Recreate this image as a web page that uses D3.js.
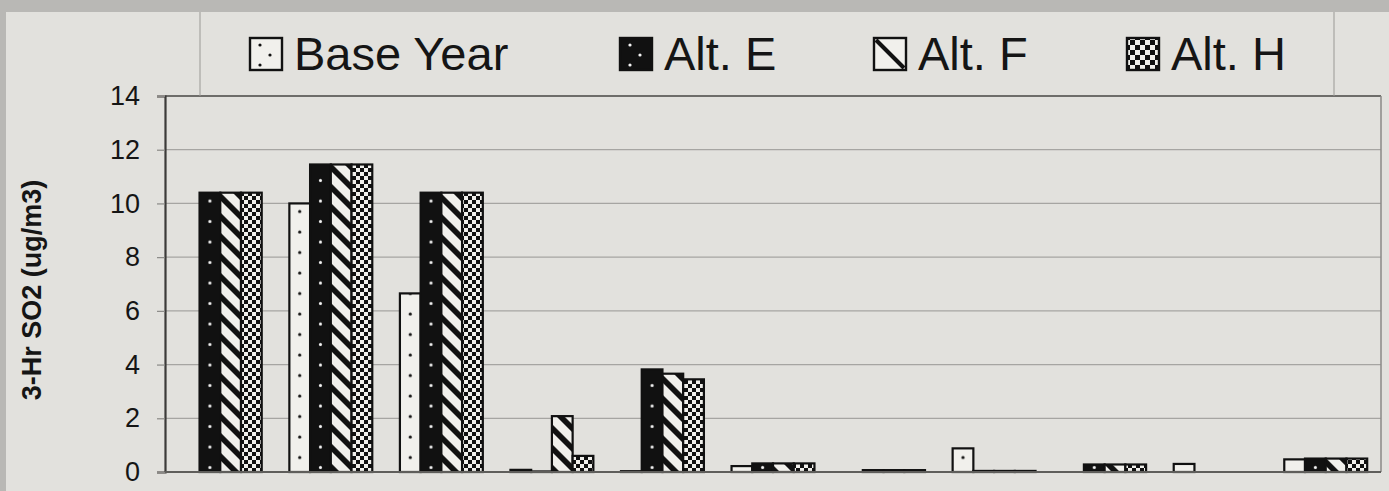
<!DOCTYPE html>
<html>
<head>
<meta charset="utf-8">
<script src="https://cdn.jsdelivr.net/npm/d3@7"></script>
<style>
  html, body { margin: 0; padding: 0; background: #b9b8b5; }
  svg { display: block; font-family: "Liberation Sans", Arial, sans-serif; }
</style>
</head>
<body>
<svg id="chart" width="1389" height="491"></svg>
<script>
// Receptor groups (unlabelled on the axis)
const categories = ["1", "2", "3", "4", "5", "6", "7", "8", "9", "10", "11"];
const seriesNames = ["Base Year", "Alt. E", "Alt. F", "Alt. H"];

// 3-hour SO2 concentrations (ug/m3)
const baseYear = [0, 10.0, 6.65, 0.08, 0.03, 0.22, 0, 0.88, 0, 0.30, 0.47];
const altE     = [10.4, 11.45, 10.4, 0.02, 3.82, 0.32, 0.07, 0.04, 0.28, 0, 0.50];
const altF     = [10.4, 11.45, 10.4, 2.08, 3.66, 0.32, 0.07, 0.04, 0.28, 0, 0.50];
const altH     = [10.4, 11.45, 10.4, 0.60, 3.45, 0.32, 0.07, 0.04, 0.28, 0, 0.50];

const yTicks = [0, 2, 4, 6, 8, 10, 12, 14];
const seriesValues = [baseYear, altE, altF, altH];

const W = 1389, H = 491;
const plot = { left: 165, right: 1381, top: 96, bottom: 472 };
const PANEL = "#e2e1dd", LIGHT = "#f1f0ec", INK = "#111";

const svg = d3.select("#chart");
const defs = svg.append("defs");

// Page panel with the darker margin strip on top and left
svg.append("rect").attr("x", 0).attr("y", 0).attr("width", W).attr("height", H).attr("fill", "#b9b8b5");
svg.append("rect").attr("x", 6).attr("y", 12).attr("width", W - 6).attr("height", H - 12).attr("fill", PANEL);

// Scales
const x0 = d3.scaleBand().domain(categories).range([plot.left, plot.right])
  .paddingInner(0.25).paddingOuter(0.125);
const x1 = d3.scaleBand().domain(seriesNames).range([0, x0.bandwidth()]);
const y = d3.scaleLinear().domain([0, 14]).range([plot.bottom, plot.top]);

// Shared fill patterns: diagonal hatch and checkerboard
const hatch = defs.append("pattern").attr("id", "hatch")
  .attr("patternUnits", "userSpaceOnUse").attr("width", 14.14).attr("height", 14.14)
  .attr("patternTransform", "rotate(-45)");
hatch.append("rect").attr("width", 14.14).attr("height", 14.14).attr("fill", LIGHT);
hatch.append("rect").attr("x", 0).attr("width", 5.6).attr("height", 14.14).attr("fill", INK);

function checker(id, c) {
  const p = defs.append("pattern").attr("id", id)
    .attr("patternUnits", "userSpaceOnUse").attr("width", 2 * c).attr("height", 2 * c);
  p.append("rect").attr("width", 2 * c).attr("height", 2 * c).attr("fill", LIGHT);
  p.append("rect").attr("width", c).attr("height", c).attr("fill", INK);
  p.append("rect").attr("x", c).attr("y", c).attr("width", c).attr("height", c).attr("fill", INK);
}
checker("checker", 4);
checker("checkerLegend", 5);

// Dotted fills keep one centred column of dots inside each bar
function dotPattern(id, x, w, yBase, bg, fg, offset) {
  const p = defs.append("pattern").attr("id", id)
    .attr("patternUnits", "userSpaceOnUse")
    .attr("x", x).attr("y", yBase).attr("width", w).attr("height", 20.5);
  p.append("rect").attr("width", w).attr("height", 20.5).attr("fill", bg);
  p.append("circle").attr("cx", w / 2).attr("cy", offset).attr("r", 1.5).attr("fill", fg);
}

// Gridlines
const grid = svg.append("g");
grid.selectAll("line").data(yTicks.filter(t => t > 0 && t < 14)).join("line")
  .attr("x1", plot.left).attr("x2", plot.right)
  .attr("y1", d => y(d)).attr("y2", d => y(d))
  .attr("stroke", "#a6a5a2").attr("stroke-width", 1.2);

// Plot frame: top and right edges
svg.append("line").attr("x1", plot.left).attr("x2", plot.right)
  .attr("y1", plot.top).attr("y2", plot.top).attr("stroke", "#6e6d6a").attr("stroke-width", 2);
svg.append("line").attr("x1", plot.right).attr("x2", plot.right)
  .attr("y1", plot.top).attr("y2", plot.bottom).attr("stroke", "#8a8986").attr("stroke-width", 1.5);

// Legend box side rules
[200, 1334].forEach(xv => {
  svg.append("line").attr("x1", xv).attr("x2", xv).attr("y1", 12).attr("y2", plot.top)
    .attr("stroke", "#9a9995").attr("stroke-width", 1);
});

// Bars
const barData = [];
categories.forEach((c, i) => {
  seriesNames.forEach((s, k) => {
    barData.push({ cat: c, series: s, k, value: seriesValues[k][i] });
  });
});

barData.forEach((d, idx) => {
  const bx = x0(d.cat) + x1(d.series);
  const bw = x1.bandwidth();
  if (d.k === 0) {
    dotPattern("dots" + idx, bx, bw, plot.bottom, LIGHT, INK, 6);
    d.fill = "url(#dots" + idx + ")";
  } else if (d.k === 1) {
    dotPattern("dots" + idx, bx, bw, plot.bottom, INK, "#f4f4f4", 16);
    d.fill = "url(#dots" + idx + ")";
  } else if (d.k === 2) {
    d.fill = "url(#hatch)";
  } else {
    d.fill = "url(#checker)";
  }
});

svg.append("g").selectAll("rect").data(barData.filter(d => d.value > 0)).join("rect")
  .attr("x", d => x0(d.cat) + x1(d.series))
  .attr("width", x1.bandwidth())
  .attr("y", d => y(d.value))
  .attr("height", d => y(0) - y(d.value))
  .attr("fill", d => d.fill)
  .attr("stroke", INK).attr("stroke-width", 2.2);

// Y axis
const yAxis = d3.axisLeft(y).tickValues(yTicks).tickSize(8).tickPadding(17)
  .tickFormat(d3.format("d"));
const ya = svg.append("g").attr("transform", `translate(${plot.left},0)`).call(yAxis);
ya.select(".domain").attr("stroke", "#3c3b39").attr("stroke-width", 2.2);
ya.selectAll(".tick line").attr("stroke", "#8a8986").attr("stroke-width", 1.2);
ya.selectAll(".tick text").attr("font-size", 27).attr("fill", "#151515")
  .attr("font-family", "'Liberation Sans', Arial, sans-serif");

// Baseline
svg.append("line").attr("x1", plot.left).attr("x2", plot.right)
  .attr("y1", plot.bottom).attr("y2", plot.bottom)
  .attr("stroke", "#5f5e5b").attr("stroke-width", 2.2);

// Y axis title
svg.append("text")
  .attr("transform", `translate(41,${(plot.top + plot.bottom) / 2 + 6}) rotate(-90)`)
  .attr("text-anchor", "middle")
  .attr("font-size", 27).attr("font-weight", "bold").attr("fill", "#151515")
  .text("3-Hr SO2 (ug/m3)");

// Legend
const legendItems = [
  { name: seriesNames[0], sx: 250 },
  { name: seriesNames[1], sx: 620 },
  { name: seriesNames[2], sx: 874 },
  { name: seriesNames[3], sx: 1127 }
];
const sw = 32, sy = 38;
legendItems.forEach((it, k) => {
  const g = svg.append("g");
  if (k === 0 || k === 1) {
    const p = defs.append("pattern").attr("id", "legDots" + k)
      .attr("patternUnits", "userSpaceOnUse")
      .attr("x", it.sx).attr("y", sy).attr("width", 40).attr("height", 20);
    p.append("rect").attr("width", 40).attr("height", 20).attr("fill", k === 0 ? LIGHT : INK);
    const dc = k === 0 ? INK : "#f4f4f4";
    p.append("circle").attr("cx", 10).attr("cy", 7).attr("r", 1.6).attr("fill", dc);
    p.append("circle").attr("cx", 20).attr("cy", 17).attr("r", 1.6).attr("fill", dc);
    g.append("rect").attr("x", it.sx).attr("y", sy).attr("width", sw).attr("height", sw)
      .attr("fill", "url(#legDots" + k + ")");
  } else if (k === 2) {
    g.append("rect").attr("x", it.sx).attr("y", sy).attr("width", sw).attr("height", sw).attr("fill", LIGHT);
    g.append("line").attr("x1", it.sx + 2).attr("y1", sy + 2)
      .attr("x2", it.sx + sw - 2).attr("y2", sy + sw - 2)
      .attr("stroke", INK).attr("stroke-width", 4);
  } else {
    g.append("rect").attr("x", it.sx).attr("y", sy).attr("width", sw).attr("height", sw)
      .attr("fill", "url(#checkerLegend)");
  }
  g.append("rect").attr("x", it.sx).attr("y", sy).attr("width", sw).attr("height", sw)
    .attr("fill", "none").attr("stroke", INK).attr("stroke-width", 2.4);
  g.append("text").attr("x", it.sx + sw + 12).attr("y", 70)
    .attr("font-size", 47).attr("fill", "#151515")
    .text(it.name);
});
</script>
</body>
</html>
